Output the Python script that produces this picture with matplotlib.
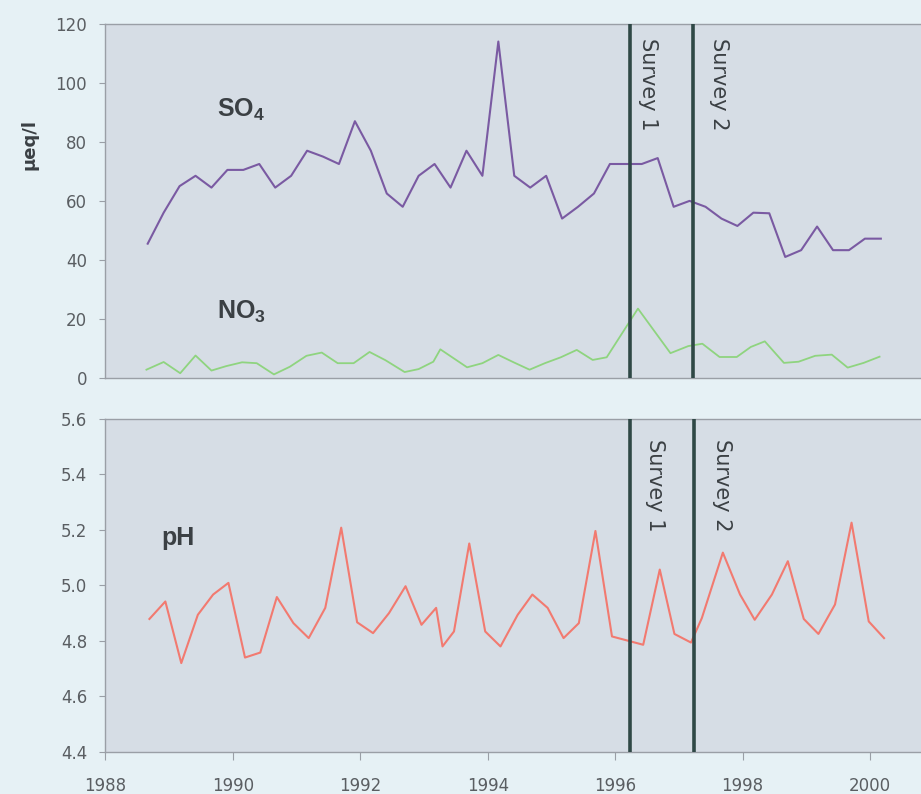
import numpy as np
import matplotlib
matplotlib.use('Agg')
import matplotlib.pyplot as plt

plt.rcParams['mathtext.fontset'] = 'custom'
plt.rcParams['mathtext.bf'] = 'Liberation Sans:bold'
plt.rcParams['mathtext.rm'] = 'Liberation Sans:bold'

# sulphate, ueq/l
so4_year = [1988.67, 1988.92, 1989.17, 1989.42, 1989.67, 1989.92, 1990.17, 1990.42,
            1990.67, 1990.92, 1991.17, 1991.42, 1991.67, 1991.92, 1992.17, 1992.42,
            1992.67, 1992.92, 1993.17, 1993.42, 1993.67, 1993.92, 1994.17, 1994.42,
            1994.67, 1994.92, 1995.17, 1995.42, 1995.67, 1995.92, 1996.17, 1996.42,
            1996.67, 1996.92, 1997.17, 1997.42, 1997.67, 1997.92, 1998.17, 1998.42,
            1998.67, 1998.92, 1999.17, 1999.42, 1999.67, 1999.92, 2000.17]
so4 = [45.5, 56, 65, 68.5, 64.5, 70.5, 70.5, 72.5,
       64.5, 68.5, 77, 75, 72.5, 87, 77, 62.5,
       58, 68.5, 72.5, 64.5, 77, 68.5, 114, 68.5,
       64.5, 68.5, 54, 58, 62.5, 72.5, 72.5, 72.5,
       74.5, 58, 60, 58, 54, 51.5, 56, 55.8,
       41, 43.3, 51.3, 43.3, 43.3, 47.2, 47.2]

# nitrate, ueq/l
no3_year = [1988.65, 1988.92, 1989.18, 1989.42, 1989.67, 1989.90, 1990.15, 1990.38,
            1990.65, 1990.90, 1991.16, 1991.40, 1991.65, 1991.90, 1992.15, 1992.40,
            1992.70, 1992.92, 1993.15, 1993.26, 1993.68, 1993.92, 1994.17, 1994.41,
            1994.66, 1994.90, 1995.15, 1995.40, 1995.65, 1995.87, 1996.36, 1996.87,
            1997.15, 1997.37, 1997.64, 1997.91, 1998.13, 1998.35, 1998.65, 1998.88,
            1999.14, 1999.40, 1999.65, 1999.90, 2000.15]
no3 = [2.8, 5.4, 1.6, 7.6, 2.5, 4.0, 5.3, 5.0,
       1.2, 3.8, 7.5, 8.6, 5.0, 5.0, 8.8, 6.0,
       2.0, 3.0, 5.5, 9.7, 3.6, 5.0, 7.8, 5.3,
       2.8, 5.0, 7.0, 9.5, 6.1, 7.0, 23.5, 8.4,
       10.8, 11.6, 7.1, 7.1, 10.5, 12.4, 5.1, 5.5,
       7.5, 7.9, 3.5, 5.1, 7.2]

# pH
ph_year = [1988.69, 1988.94, 1989.19, 1989.45, 1989.69, 1989.93, 1990.19, 1990.43,
           1990.69, 1990.95, 1991.19, 1991.45, 1991.70, 1991.95, 1992.20, 1992.45,
           1992.71, 1992.96, 1993.19, 1993.29, 1993.47, 1993.71, 1993.96, 1994.20,
           1994.47, 1994.70, 1994.94, 1995.19, 1995.43, 1995.69, 1995.95, 1996.44,
           1996.70, 1996.93, 1997.19, 1997.36, 1997.69, 1997.96, 1998.19, 1998.46,
           1998.71, 1998.96, 1999.19, 1999.45, 1999.71, 1999.98, 2000.22]
ph = [4.879, 4.942, 4.720, 4.894, 4.967, 5.009, 4.740, 4.758,
      4.958, 4.864, 4.810, 4.919, 5.208, 4.867, 4.828, 4.900,
      4.997, 4.858, 4.919, 4.780, 4.834, 5.151, 4.834, 4.780,
      4.894, 4.967, 4.919, 4.810, 4.864, 5.196, 4.816, 4.786,
      5.057, 4.825, 4.794, 4.882, 5.118, 4.967, 4.876, 4.967,
      5.087, 4.879, 4.825, 4.931, 5.226, 4.870, 4.810]

surveys = [1996.24, 1997.23]
survey_names = ['Survey 1', 'Survey 2']
year_ticks = [1988, 1990, 1992, 1994, 1996, 1998, 2000]

fig_bg = '#e6f1f5'
ax_bg = '#d6dde5'
spine_col = '#9a9fa6'
tick_col = '#5a5e62'
label_col = '#3b4044'
survey_col = '#2f4846'

fig = plt.figure(figsize=(9.21, 7.94), dpi=100, facecolor=fig_bg)
ax1 = fig.add_axes([0.114, 0.524, 0.886, 0.446])
ax2 = fig.add_axes([0.1145, 0.053, 0.8855, 0.4195])

for ax in (ax1, ax2):
    ax.set_facecolor(ax_bg)
    ax.set_xlim(1988, 2000.8)
    for s in ax.spines.values():
        s.set_color(spine_col)
        s.set_linewidth(1.0)
    ax.spines['right'].set_visible(False)
    ax.tick_params(axis='y', colors=spine_col, labelcolor=tick_col, labelsize=12,
                   length=4, pad=9)
    ax.tick_params(axis='x', colors=spine_col, labelcolor=tick_col, labelsize=12,
                   length=6, pad=12)
    for xs in surveys:
        ax.axvline(xs, color=survey_col, lw=2.6, zorder=4)

# top panel
ax1.plot(so4_year, so4, color='#7a5aa2', lw=1.5)
ax1.plot(no3_year, no3, color='#8fd47f', lw=1.3)
ax1.set_ylim(0, 120)
ax1.set_yticks(np.arange(0, 121, 20))
ax1.set_xticks(year_ticks)
ax1.tick_params(axis='x', length=0, labelbottom=False)
ax1.text(1989.76, 88.6, r'SO$_\mathbf{4}$', fontsize=18, fontweight='bold',
         family='Liberation Sans', color=label_col)
ax1.text(1989.76, 20.0, r'NO$_\mathbf{3}$', fontsize=18, fontweight='bold',
         family='Liberation Sans', color=label_col)
ax1.text(1996.51, 0.96, survey_names[0], transform=ax1.get_xaxis_transform(),
         rotation=-90, ha='center', va='top', fontsize=15, color=label_col)
ax1.text(1997.63, 0.96, survey_names[1], transform=ax1.get_xaxis_transform(),
         rotation=-90, ha='center', va='top', fontsize=15, color=label_col)

# bottom panel
ax2.plot(ph_year, ph, color='#f27a70', lw=1.5)
ax2.set_ylim(4.4, 5.6)
ax2.set_yticks([4.4, 4.6, 4.8, 5.0, 5.2, 5.4, 5.6])
ax2.set_yticklabels(['4.4', '4.6', '4.8', '5.0', '5.2', '5.4', '5.6'])
ax2.set_xticks(year_ticks)
ax2.text(1988.87, 5.144, 'pH', fontsize=18, fontweight='bold',
         family='Liberation Sans', color=label_col)
ax2.text(1996.63, 0.94, survey_names[0], transform=ax2.get_xaxis_transform(),
         rotation=-90, ha='center', va='top', fontsize=15, color=label_col)
ax2.text(1997.68, 0.94, survey_names[1], transform=ax2.get_xaxis_transform(),
         rotation=-90, ha='center', va='top', fontsize=15, color=label_col)

fig.text(30 / 921, 1 - 145 / 794, 'µeq/l', rotation=90, ha='center', va='center',
         fontsize=13, fontweight='bold', color=label_col)

fig.savefig('out.png', dpi=100, facecolor=fig_bg)
